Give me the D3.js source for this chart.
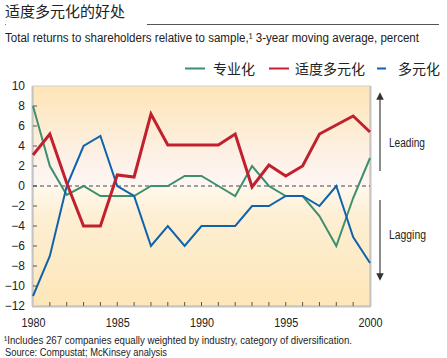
<!DOCTYPE html>
<html><head><meta charset="utf-8">
<script src="https://cdn.jsdelivr.net/npm/d3@7"></script>
<style>
html,body{margin:0;padding:0;background:#fff;}
svg{display:block;}
</style></head>
<body>
<script>
const years = d3.range(1980, 2001);
const specialized = [8, 2, -0.9, 0, -1, -1, -1, 0, 0, 1, 1, 0, -1, 2, 0, -1, -1, -3, -6, -1.2, 2.8];
const moderate = [3.1, 5.2, 0.3, -4, -4, 1.1, 0.9, 7.2, 4.1, 4.1, 4.1, 4.1, 5.2, -0.1, 2.1, 1.0, 2.0, 5.2, 6.1, 7.0, 5.4];
const diversified = [-11, -7, 0, 4, 5, 0, -1, -6, -4, -6, -4, -4, -4, -2, -2, -1, -1, -2, 0, -5.1, -7.7];
const yTicks = [10, 8, 6, 4, 2, 0, -2, -4, -6, -8, -10, -12];
const xTickLabels = [1980, 1985, 1990, 1995, 2000];
const seriesNames = ["专业化", "适度多元化", "多元化"];
const seriesColors = ["#3f8f6e", "#c1212f", "#0f63ad"];
const seriesWidths = [2, 3, 2];

const W = 447, H = 358;
const svg = d3.select("body").append("svg").attr("width", W).attr("height", H);
const sans = "'Liberation Sans', Arial, sans-serif";
const cjk = "'Noto Sans CJK SC', sans-serif";

const x = d3.scaleLinear().domain([1980, 2000]).range([33, 370]);
const y = d3.scaleLinear().domain([-12, 10]).range([306, 86]);

// gradients
const defs = svg.append("defs");
const gTop = defs.append("linearGradient").attr("id", "gTop").attr("x1", 0).attr("y1", 0).attr("x2", 0).attr("y2", 1);
gTop.append("stop").attr("offset", "0%").attr("stop-color", "#fde5b6");
gTop.append("stop").attr("offset", "70%").attr("stop-color", "#fdf1e6");
gTop.append("stop").attr("offset", "100%").attr("stop-color", "#fdf6f3");
const gBot = defs.append("linearGradient").attr("id", "gBot").attr("x1", 0).attr("y1", 0).attr("x2", 0).attr("y2", 1);
gBot.append("stop").attr("offset", "0%").attr("stop-color", "#fff8ec");
gBot.append("stop").attr("offset", "25%").attr("stop-color", "#fdefd3");
gBot.append("stop").attr("offset", "100%").attr("stop-color", "#fde7b9");

// Title
svg.append("text").attr("x", 5).attr("y", 17).attr("font-family", cjk).attr("font-size", 15).attr("fill", "#222").text("适度多元化的好处");
svg.append("line").attr("x1", 147).attr("x2", 439).attr("y1", 24.5).attr("y2", 24.5).attr("stroke", "#555").attr("stroke-width", 1);
svg.append("rect").attr("x", 5).attr("y", 24).attr("width", 1).attr("height", 1).attr("fill", "#888");

// Subtitle
svg.append("text").attr("x", 5).attr("y", 42).attr("font-family", sans).attr("font-size", 12).attr("fill", "#222")
  .attr("textLength", 414).attr("lengthAdjust", "spacingAndGlyphs")
  .text("Total returns to shareholders relative to sample,\u00B9 3-year moving average, percent");

// Legend
const legX = [[185, 205, 213], [269, 289, 295], [377, 386, 398]];
seriesNames.forEach((n, i) => {
  svg.append("line").attr("x1", legX[i][0]).attr("x2", legX[i][1]).attr("y1", 68.5).attr("y2", 68.5)
    .attr("stroke", seriesColors[i]).attr("stroke-width", 2);
  svg.append("text").attr("x", legX[i][2]).attr("y", 74).attr("font-family", cjk).attr("font-size", 14).attr("fill", "#222").text(n);
});

// Plot background
svg.append("rect").attr("x", x(1980)).attr("y", y(10)).attr("width", x(2000) - x(1980)).attr("height", y(0) - y(10)).attr("fill", "url(#gTop)");
svg.append("rect").attr("x", x(1980)).attr("y", y(0)).attr("width", x(2000) - x(1980)).attr("height", y(-12) - y(0)).attr("fill", "url(#gBot)");

// Border
svg.append("rect").attr("x", x(1980)).attr("y", y(10)).attr("width", x(2000) - x(1980)).attr("height", y(-12) - y(10))
  .attr("fill", "none").attr("stroke", "#d0d0d0").attr("stroke-width", 1);
svg.append("line").attr("x1", x(1980) - 0.5).attr("x2", x(1980) - 0.5).attr("y1", y(10)).attr("y2", y(-12)).attr("stroke", "#c4c4c4").attr("stroke-width", 2);
svg.append("line").attr("x1", x(2000) + 0.5).attr("x2", x(2000) + 0.5).attr("y1", y(10)).attr("y2", y(-12)).attr("stroke", "#c4c4c4").attr("stroke-width", 2);
svg.append("line").attr("x1", x(1980) - 1).attr("x2", x(2000) + 1).attr("y1", y(-12) + 0.5).attr("y2", y(-12) + 0.5).attr("stroke", "#c4c4c4").attr("stroke-width", 2);

// Y axis
const yAxis = d3.axisLeft(y).tickValues(yTicks).tickSize(0).tickPadding(8)
  .tickFormat(d => d < 0 ? "\u2212" + Math.abs(d) : d);
const ya = svg.append("g").attr("transform", `translate(${x(1980)},0)`).call(yAxis);
ya.select(".domain").remove();
ya.selectAll("text").attr("font-family", sans).attr("font-size", 12).attr("fill", "#222");
// inner y ticks
svg.append("g").selectAll("line").data(yTicks.filter(d => d !== 10 && d !== -12)).join("line")
  .attr("x1", x(1980)).attr("x2", x(1980) + 4).attr("y1", d => y(d)).attr("y2", d => y(d))
  .attr("stroke", "#555").attr("stroke-width", 1);

// X axis
const xAxis = d3.axisBottom(x).tickValues(xTickLabels).tickSize(0).tickPadding(12).tickFormat(d3.format("d"));
const xa = svg.append("g").attr("transform", `translate(0,${y(-12)})`).call(xAxis);
xa.select(".domain").remove();
xa.selectAll("text").attr("font-family", sans).attr("font-size", 12.5).attr("fill", "#222")
  .attr("textLength", 24).attr("lengthAdjust", "spacingAndGlyphs");
svg.append("g").selectAll("line").data(years.slice(1, -1)).join("line")
  .attr("x1", d => x(d)).attr("x2", d => x(d)).attr("y1", y(-12)).attr("y2", y(-12) - 4)
  .attr("stroke", "#555").attr("stroke-width", 1);

// Zero line
svg.append("line").attr("x1", x(1980)).attr("x2", x(2000)).attr("y1", y(0)).attr("y2", y(0))
  .attr("stroke", "#444").attr("stroke-width", 1).attr("stroke-dasharray", "4,3");

// Series
const line = d3.line().x((d, i) => x(years[i])).y(d => y(d));
const paths = [specialized, moderate, diversified].map((s, i) =>
  svg.append("path").datum(s).attr("d", line).attr("fill", "none")
    .attr("stroke", seriesColors[i]).attr("stroke-width", seriesWidths[i]).attr("stroke-linejoin", "miter"));
paths[1].raise();

// Arrows
defs.append("marker").attr("id", "ah").attr("viewBox", "0 0 10 10").attr("refX", 5).attr("refY", 5)
  .attr("markerWidth", 5).attr("markerHeight", 6).attr("orient", "auto")
  .append("path").attr("d", "M0,0 L10,5 L0,10 z").attr("fill", "#333");
svg.append("line").attr("x1", 380).attr("x2", 380).attr("y1", 171).attr("y2", 96)
  .attr("stroke", "#666").attr("stroke-width", 1.5).attr("marker-end", "url(#ah)");
svg.append("line").attr("x1", 380).attr("x2", 380).attr("y1", 200).attr("y2", 277)
  .attr("stroke", "#666").attr("stroke-width", 1.5).attr("marker-end", "url(#ah)");
svg.append("text").attr("x", 389).attr("y", 147).attr("font-family", sans).attr("font-size", 12.5).attr("fill", "#222")
  .attr("textLength", 36).attr("lengthAdjust", "spacingAndGlyphs").text("Leading");
svg.append("text").attr("x", 389).attr("y", 239).attr("font-family", sans).attr("font-size", 12.5).attr("fill", "#222")
  .attr("textLength", 37).attr("lengthAdjust", "spacingAndGlyphs").text("Lagging");

// Footnotes
svg.append("text").attr("x", 4).attr("y", 344).attr("font-family", sans).attr("font-size", 10.5).attr("fill", "#222")
  .attr("textLength", 348).attr("lengthAdjust", "spacingAndGlyphs")
  .text("\u00B9Includes 267 companies equally weighted by industry, category of diversification.");
svg.append("text").attr("x", 5).attr("y", 356).attr("font-family", sans).attr("font-size", 10.5).attr("fill", "#222")
  .attr("textLength", 162).attr("lengthAdjust", "spacingAndGlyphs")
  .text("Source: Compustat; McKinsey analysis");
</script>
</body></html>
